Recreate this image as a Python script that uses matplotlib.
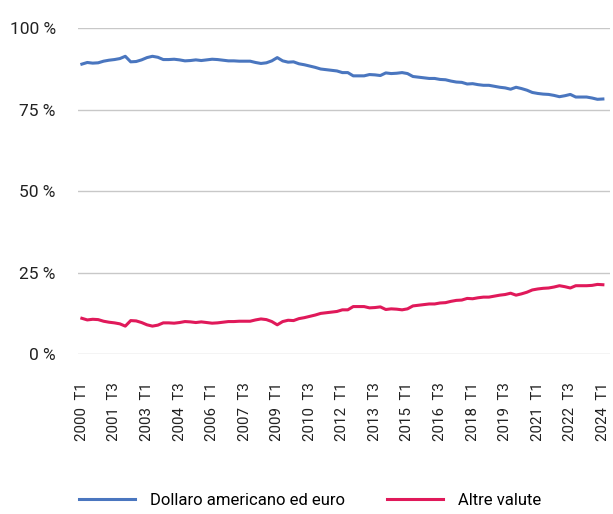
import numpy as np
import matplotlib
matplotlib.use('Agg')
import matplotlib.pyplot as plt

plt.rcParams['font.family'] = ['Roboto', 'DejaVu Sans']

# quarterly shares, 2000 T1 .. 2024 T1
quarters = [f'{y} T{q}' for y in range(2000, 2025) for q in (1, 2, 3, 4)][:97]

dollar_euro = [89.0, 89.5, 89.3, 89.4, 89.9, 90.2, 90.4, 90.7, 91.4, 89.7,
               89.8, 90.3, 91.0, 91.4, 91.1, 90.4, 90.4, 90.5, 90.3, 90.0,
               90.1, 90.3, 90.1, 90.3, 90.5, 90.4, 90.2, 90.0, 90.0, 89.9,
               89.9, 89.9, 89.5, 89.2, 89.4, 90.0, 91.0, 90.0, 89.6, 89.7,
               89.1, 88.8, 88.4, 88.0, 87.5, 87.3, 87.1, 86.9, 86.4, 86.4,
               85.4, 85.4, 85.4, 85.8, 85.7, 85.5, 86.3, 86.1, 86.2, 86.4,
               86.1, 85.2, 85.0, 84.8, 84.6, 84.6, 84.3, 84.2, 83.8, 83.5,
               83.4, 82.9, 83.0, 82.7, 82.5, 82.5, 82.2, 81.9, 81.7, 81.3,
               81.9, 81.5, 81.0, 80.3, 80.0, 79.8, 79.7, 79.4, 79.0, 79.3,
               79.7, 78.9, 78.9, 78.9, 78.6, 78.2, 78.3]

altre_valute = [11.0, 10.5, 10.7, 10.6, 10.1, 9.8, 9.6, 9.3, 8.6, 10.3,
                10.2, 9.7, 9.0, 8.6, 8.9, 9.6, 9.6, 9.5, 9.7, 10.0,
                9.9, 9.7, 9.9, 9.7, 9.5, 9.6, 9.8, 10.0, 10.0, 10.1,
                10.1, 10.1, 10.5, 10.8, 10.6, 10.0, 9.0, 10.0, 10.4, 10.3,
                10.9, 11.2, 11.6, 12.0, 12.5, 12.7, 12.9, 13.1, 13.6, 13.6,
                14.6, 14.6, 14.6, 14.2, 14.3, 14.5, 13.7, 13.9, 13.8, 13.6,
                13.9, 14.8, 15.0, 15.2, 15.4, 15.4, 15.7, 15.8, 16.2, 16.5,
                16.6, 17.1, 17.0, 17.3, 17.5, 17.5, 17.8, 18.1, 18.3, 18.7,
                18.1, 18.5, 19.0, 19.7, 20.0, 20.2, 20.3, 20.6, 21.0, 20.7,
                20.3, 21.0, 21.0, 21.0, 21.1, 21.4, 21.3]

labels = ['Dollaro americano ed euro', 'Altre valute']
colors = ['#4a76bf', '#e0195a']

fig = plt.figure(figsize=(6.13, 5.14), dpi=100)
ax = fig.add_axes([0.127, 0.311, 0.868, 0.634])

x = np.arange(len(quarters))
ax.plot(x, dollar_euro, color=colors[0], lw=2.2, label=labels[0])
ax.plot(x, altre_valute, color=colors[1], lw=2.2, label=labels[1])

ax.set_ylim(0, 100)
ax.set_xlim(-0.74, 97.3)
ax.set_yticks([0, 25, 50, 75, 100])
ax.set_yticklabels([f'{v} %' for v in [0, 25, 50, 75, 100]], fontsize=12.5, color='#222222')
ax.yaxis.grid(True, color='#c8c8c8', lw=1)
ax.set_axisbelow(True)

ticks = x[::6]
ax.set_xticks(ticks)
ax.set_xticklabels([quarters[i].replace(' ', '  ') for i in ticks],
                   rotation=90, fontsize=10.8, color='#222222')
ax.tick_params(axis='both', length=0)
ax.tick_params(axis='x', pad=20)
ax.tick_params(axis='y', pad=16)
for s in ax.spines.values():
    s.set_visible(False)

fig.legend(loc='center', bbox_to_anchor=(0.506, 0.027), ncol=2, frameon=False,
           fontsize=12, handlelength=3.35, handletextpad=0.9, columnspacing=2.5)

plt.savefig('out.png', dpi=100)
